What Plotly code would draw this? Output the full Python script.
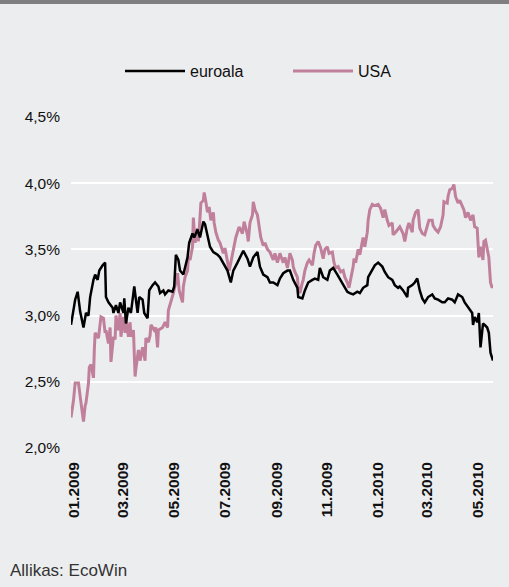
import plotly.graph_objects as go

# ---- data ----
eur_dates = [
    "2008-12-28", "2009-01-02", "2009-01-05", "2009-01-08", "2009-01-12", "2009-01-15", "2009-01-18",
    "2009-01-20", "2009-01-24", "2009-01-26", "2009-01-29", "2009-01-31", "2009-02-04", "2009-02-07",
    "2009-02-08", "2009-02-11", "2009-02-16", "2009-02-17", "2009-02-20", "2009-02-23", "2009-02-25",
    "2009-03-01", "2009-03-02", "2009-03-04", "2009-03-07", "2009-03-10", "2009-03-12", "2009-03-14",
    "2009-03-18", "2009-03-20", "2009-03-24", "2009-03-26", "2009-03-30", "2009-04-01", "2009-04-05",
    "2009-04-08", "2009-04-12", "2009-04-14", "2009-04-18", "2009-04-20", "2009-04-24", "2009-04-29",
    "2009-05-01", "2009-05-03", "2009-05-06", "2009-05-08", "2009-05-12", "2009-05-14", "2009-05-17",
    "2009-05-19", "2009-05-23", "2009-05-25", "2009-05-29", "2009-06-01", "2009-06-05", "2009-06-07",
    "2009-06-10", "2009-06-13", "2009-06-17", "2009-06-22", "2009-06-25", "2009-06-29", "2009-07-04",
    "2009-07-08", "2009-07-11", "2009-07-16", "2009-07-19", "2009-07-23", "2009-07-28", "2009-07-31",
    "2009-08-04", "2009-08-09", "2009-08-12", "2009-08-16", "2009-08-21", "2009-08-24", "2009-08-28",
    "2009-09-02", "2009-09-05", "2009-09-09", "2009-09-14", "2009-09-17", "2009-09-21", "2009-09-26",
    "2009-09-27", "2009-10-02", "2009-10-05", "2009-10-09", "2009-10-14", "2009-10-17", "2009-10-21",
    "2009-10-23", "2009-10-27", "2009-11-01", "2009-11-04", "2009-11-08", "2009-11-13", "2009-11-16",
    "2009-11-20", "2009-11-25", "2009-11-28", "2009-12-02", "2009-12-07", "2009-12-10", "2009-12-14",
    "2009-12-19", "2009-12-20", "2009-12-25", "2009-12-28", "2010-01-01", "2010-01-06", "2010-01-09",
    "2010-01-13", "2010-01-18", "2010-01-21", "2010-01-25", "2010-01-27", "2010-01-31", "2010-02-05",
    "2010-02-06", "2010-02-11", "2010-02-14", "2010-02-17", "2010-02-20", "2010-02-23", "2010-02-26",
    "2010-03-02", "2010-03-07", "2010-03-10", "2010-03-14", "2010-03-19", "2010-03-22", "2010-03-26",
    "2010-03-31", "2010-04-03", "2010-04-07", "2010-04-12", "2010-04-15", "2010-04-19", "2010-04-24",
    "2010-04-25", "2010-04-27", "2010-04-30", "2010-05-02", "2010-05-04", "2010-05-07", "2010-05-09",
    "2010-05-12", "2010-05-14", "2010-05-16", "2010-05-19",
]
eur_values = [
    2.93, 3.12, 3.18, 3.03, 2.91, 3.02, 3.00,
    3.14, 3.27, 3.31, 3.27, 3.34, 3.38, 3.40,
    3.14, 3.10, 3.06, 3.02, 3.08, 3.02, 3.10,
    3.02, 3.13, 2.94, 3.06, 3.02, 3.12, 3.22,
    3.02, 3.14, 3.12, 3.02, 2.98, 3.19, 3.23,
    3.25, 3.22, 3.17, 3.19, 3.16, 3.19, 3.18,
    3.22, 3.46, 3.42, 3.34, 3.31, 3.36, 3.44,
    3.55, 3.62, 3.59, 3.65, 3.59, 3.71, 3.69,
    3.61, 3.52, 3.48, 3.46, 3.44, 3.40, 3.34,
    3.25, 3.34, 3.40, 3.44, 3.49, 3.43, 3.37,
    3.44, 3.48, 3.37, 3.31, 3.29, 3.25, 3.25,
    3.23, 3.28, 3.32, 3.34, 3.34, 3.27, 3.21,
    3.14, 3.13, 3.19, 3.25, 3.27, 3.28, 3.27,
    3.36, 3.29, 3.27, 3.34, 3.36, 3.31, 3.28,
    3.23, 3.18, 3.17, 3.16, 3.18, 3.17, 3.21,
    3.23, 3.29, 3.34, 3.38, 3.40, 3.37, 3.33,
    3.29, 3.27, 3.23, 3.21, 3.22, 3.19, 3.14,
    3.21, 3.23, 3.25, 3.28, 3.19, 3.13, 3.10,
    3.14, 3.16, 3.13, 3.12, 3.10, 3.10, 3.13,
    3.12, 3.10, 3.16, 3.14, 3.10, 3.06, 3.02,
    2.93, 2.99, 2.95, 3.02, 2.76, 2.94, 2.93,
    2.91, 2.87, 2.72, 2.66,
]

usa_dates = [
    "2008-12-28", "2008-12-31", "2009-01-02", "2009-01-06", "2009-01-08", "2009-01-09", "2009-01-12",
    "2009-01-14", "2009-01-15", "2009-01-18", "2009-01-19", "2009-01-21", "2009-01-24", "2009-01-25",
    "2009-01-26", "2009-01-30", "2009-02-01", "2009-02-02", "2009-02-05", "2009-02-07", "2009-02-08",
    "2009-02-11", "2009-02-13", "2009-02-14", "2009-02-17", "2009-02-19", "2009-02-20", "2009-02-23",
    "2009-02-25", "2009-02-26", "2009-03-01", "2009-03-03", "2009-03-04", "2009-03-07", "2009-03-09",
    "2009-03-10", "2009-03-13", "2009-03-15", "2009-03-16", "2009-03-19", "2009-03-21", "2009-03-24",
    "2009-03-27", "2009-03-28", "2009-03-31", "2009-04-02", "2009-04-03", "2009-04-07", "2009-04-09",
    "2009-04-11", "2009-04-12", "2009-04-17", "2009-04-20", "2009-04-23", "2009-04-24", "2009-04-27",
    "2009-04-30", "2009-05-03", "2009-05-05", "2009-05-07", "2009-05-11", "2009-05-12", "2009-05-14",
    "2009-05-17", "2009-05-18", "2009-05-20", "2009-05-23", "2009-05-24", "2009-05-26", "2009-05-29",
    "2009-05-30", "2009-06-01", "2009-06-02", "2009-06-05", "2009-06-06", "2009-06-08", "2009-06-10",
    "2009-06-12", "2009-06-14", "2009-06-17", "2009-06-18", "2009-06-20", "2009-06-23", "2009-06-25",
    "2009-06-29", "2009-07-01", "2009-07-04", "2009-07-06", "2009-07-08", "2009-07-11", "2009-07-12",
    "2009-07-14", "2009-07-17", "2009-07-18", "2009-07-22", "2009-07-24", "2009-07-28", "2009-07-29",
    "2009-07-31", "2009-08-03", "2009-08-04", "2009-08-06", "2009-08-09", "2009-08-11", "2009-08-13",
    "2009-08-16", "2009-08-18", "2009-08-21", "2009-08-24", "2009-08-28", "2009-08-30", "2009-09-02",
    "2009-09-05", "2009-09-09", "2009-09-11", "2009-09-14", "2009-09-17", "2009-09-20", "2009-09-21",
    "2009-09-23", "2009-09-26", "2009-09-27", "2009-09-29", "2009-10-02", "2009-10-03", "2009-10-05",
    "2009-10-08", "2009-10-10", "2009-10-14", "2009-10-16", "2009-10-18", "2009-10-21", "2009-10-24",
    "2009-10-27", "2009-10-29", "2009-11-01", "2009-11-03", "2009-11-07", "2009-11-09", "2009-11-11",
    "2009-11-14", "2009-11-17", "2009-11-20", "2009-11-22", "2009-11-25", "2009-11-27", "2009-11-29",
    "2009-12-02", "2009-12-03", "2009-12-05", "2009-12-08", "2009-12-10", "2009-12-13", "2009-12-14",
    "2009-12-16", "2009-12-19", "2009-12-20", "2009-12-22", "2009-12-25", "2009-12-28", "2010-01-01",
    "2010-01-04", "2010-01-07", "2010-01-09", "2010-01-12", "2010-01-14", "2010-01-18", "2010-01-19",
    "2010-01-22", "2010-01-25", "2010-01-27", "2010-01-31", "2010-02-02", "2010-02-05", "2010-02-07",
    "2010-02-11", "2010-02-12", "2010-02-15", "2010-02-18", "2010-02-20", "2010-02-23", "2010-02-26",
    "2010-03-01", "2010-03-03", "2010-03-07", "2010-03-08", "2010-03-11", "2010-03-14", "2010-03-17",
    "2010-03-20", "2010-03-21", "2010-03-25", "2010-03-26", "2010-03-28", "2010-03-31", "2010-04-02",
    "2010-04-04", "2010-04-07", "2010-04-09", "2010-04-12", "2010-04-14", "2010-04-16", "2010-04-19",
    "2010-04-22", "2010-04-25", "2010-04-27", "2010-04-30", "2010-05-02", "2010-05-04", "2010-05-07",
    "2010-05-08", "2010-05-10", "2010-05-12", "2010-05-14", "2010-05-16", "2010-05-18", "2010-05-19",
]
usa_values = [
    2.23, 2.36, 2.49, 2.49, 2.39, 2.34, 2.20,
    2.32, 2.34, 2.49, 2.61, 2.63, 2.53, 2.74,
    2.87, 2.83, 2.97, 2.99, 2.98, 2.87, 2.89,
    2.79, 2.91, 2.65, 2.84, 2.82, 3.00, 2.89,
    3.02, 2.84, 2.99, 2.87, 2.98, 2.84, 2.95,
    2.84, 2.89, 2.54, 2.60, 2.74, 2.66, 2.76,
    2.66, 2.83, 2.80, 2.85, 2.93, 2.89, 2.91,
    2.76, 2.89, 2.91, 2.95, 2.91, 3.04, 3.10,
    3.17, 3.25, 3.32, 3.19, 3.10, 3.22, 3.29,
    3.34, 3.44, 3.42, 3.52, 3.74, 3.55, 3.66,
    3.56, 3.74, 3.85, 3.87, 3.93, 3.86, 3.78,
    3.82, 3.72, 3.78, 3.70, 3.63, 3.57, 3.55,
    3.47, 3.51, 3.42, 3.34, 3.40, 3.50, 3.52,
    3.59, 3.65, 3.67, 3.62, 3.71, 3.61, 3.56,
    3.70, 3.76, 3.86, 3.80, 3.76, 3.67, 3.59,
    3.53, 3.55, 3.50, 3.48, 3.42, 3.47, 3.40,
    3.47, 3.40, 3.44, 3.36, 3.47, 3.42, 3.37,
    3.33, 3.29, 3.21, 3.17, 3.25, 3.27, 3.34,
    3.40, 3.42, 3.38, 3.47, 3.53, 3.56, 3.51,
    3.43, 3.50, 3.52, 3.47, 3.48, 3.40, 3.36,
    3.37, 3.33, 3.34, 3.29, 3.25, 3.21, 3.27,
    3.37, 3.43, 3.40, 3.50, 3.46, 3.56, 3.59,
    3.52, 3.63, 3.72, 3.80, 3.84, 3.83, 3.84,
    3.81, 3.74, 3.80, 3.72, 3.68, 3.70, 3.61,
    3.63, 3.66, 3.67, 3.62, 3.56, 3.66, 3.70,
    3.63, 3.72, 3.78, 3.80, 3.66, 3.62, 3.61,
    3.68, 3.72, 3.72, 3.68, 3.65, 3.63, 3.67,
    3.76, 3.86, 3.85, 3.90, 3.95, 3.96, 3.99,
    3.90, 3.85, 3.87, 3.82, 3.80, 3.74, 3.78,
    3.72, 3.76, 3.67, 3.66, 3.44, 3.52, 3.42,
    3.56, 3.57, 3.50, 3.44, 3.25, 3.21, 3.23,
]

series_names = ["euroala", "USA"]
y_tick_values = [2.0, 2.5, 3.0, 3.5, 4.0, 4.5]
y_tick_labels = ["2,0%", "2,5%", "3,0%", "3,5%", "4,0%", "4,5%"]
x_tick_values = ["2009-01-01", "2009-03-01", "2009-05-01", "2009-07-01", "2009-09-01",
                 "2009-11-01", "2010-01-01", "2010-03-01", "2010-05-01"]
x_tick_labels = ["01.2009", "03.2009", "05.2009", "07.2009", "09.2009",
                 "11.2009", "01.2010", "03.2010", "05.2010"]
source_text = "Allikas: EcoWin"

# ---- figure ----
BG = "#ecedef"
FONT = "Liberation Sans, Arial, Helvetica, sans-serif"
TXT = "#111111"
PW, PH = 422, 331  # plot area size in px
LEG_Y = 1 + (117 - 71) / PH

fig = go.Figure()
fig.add_trace(go.Scatter(x=usa_dates, y=usa_values, name=series_names[1], mode="lines",
                         legend="legend2",
                         line=dict(color="#c0809c", width=3.0)))
fig.add_trace(go.Scatter(x=eur_dates, y=eur_values, name=series_names[0], mode="lines",
                         legend="legend",
                         line=dict(color="#000000", width=2.5)))

legend_common = dict(orientation="h", xanchor="left", y=LEG_Y, yanchor="middle",
                     bgcolor="rgba(0,0,0,0)", font=dict(size=16, color=TXT), itemwidth=60)

fig.update_layout(
    width=509, height=587,
    paper_bgcolor=BG, plot_bgcolor=BG,
    margin=dict(l=71, r=16, t=117, b=139, pad=0),
    font=dict(family=FONT, size=15, color=TXT),
    showlegend=True,
    legend=dict(x=(120 - 71) / PW, **legend_common),
    legend2=dict(x=(288 - 71) / PW, **legend_common),
    xaxis=dict(type="date", range=["2008-12-28", "2010-05-19"],
               tickvals=x_tick_values, ticktext=x_tick_labels, tickangle=-90,
               showgrid=False, zeroline=False, showline=False, ticks="",
               ticklabelstandoff=10, tickfont=dict(size=15.5, color=TXT, weight="bold")),
    yaxis=dict(range=[2.0, 4.5], tickvals=y_tick_values, ticktext=y_tick_labels,
               showgrid=True, gridcolor="#ffffff", gridwidth=2,
               zeroline=False, showline=False, ticks="",
               ticklabelstandoff=10, tickfont=dict(size=15.5, color=TXT)),
    shapes=[dict(type="rect", xref="paper", yref="paper",
                 x0=-71 / PW, x1=1 + 16 / PW, y0=1 + 113 / PH, y1=1 + 118 / PH,
                 fillcolor="#7f7f81", line=dict(width=0), layer="above")],
    annotations=[dict(text=source_text, xref="paper", yref="paper",
                      x=-63 / PW, y=-(570 - 448) / PH, xanchor="left", yanchor="middle",
                      showarrow=False, font=dict(size=17, color="#333333"))],
)

fig.write_html("out.html", config={"displayModeBar": False},
               post_script="document.body.style.margin='0';document.body.style.background='%s';" % BG)
